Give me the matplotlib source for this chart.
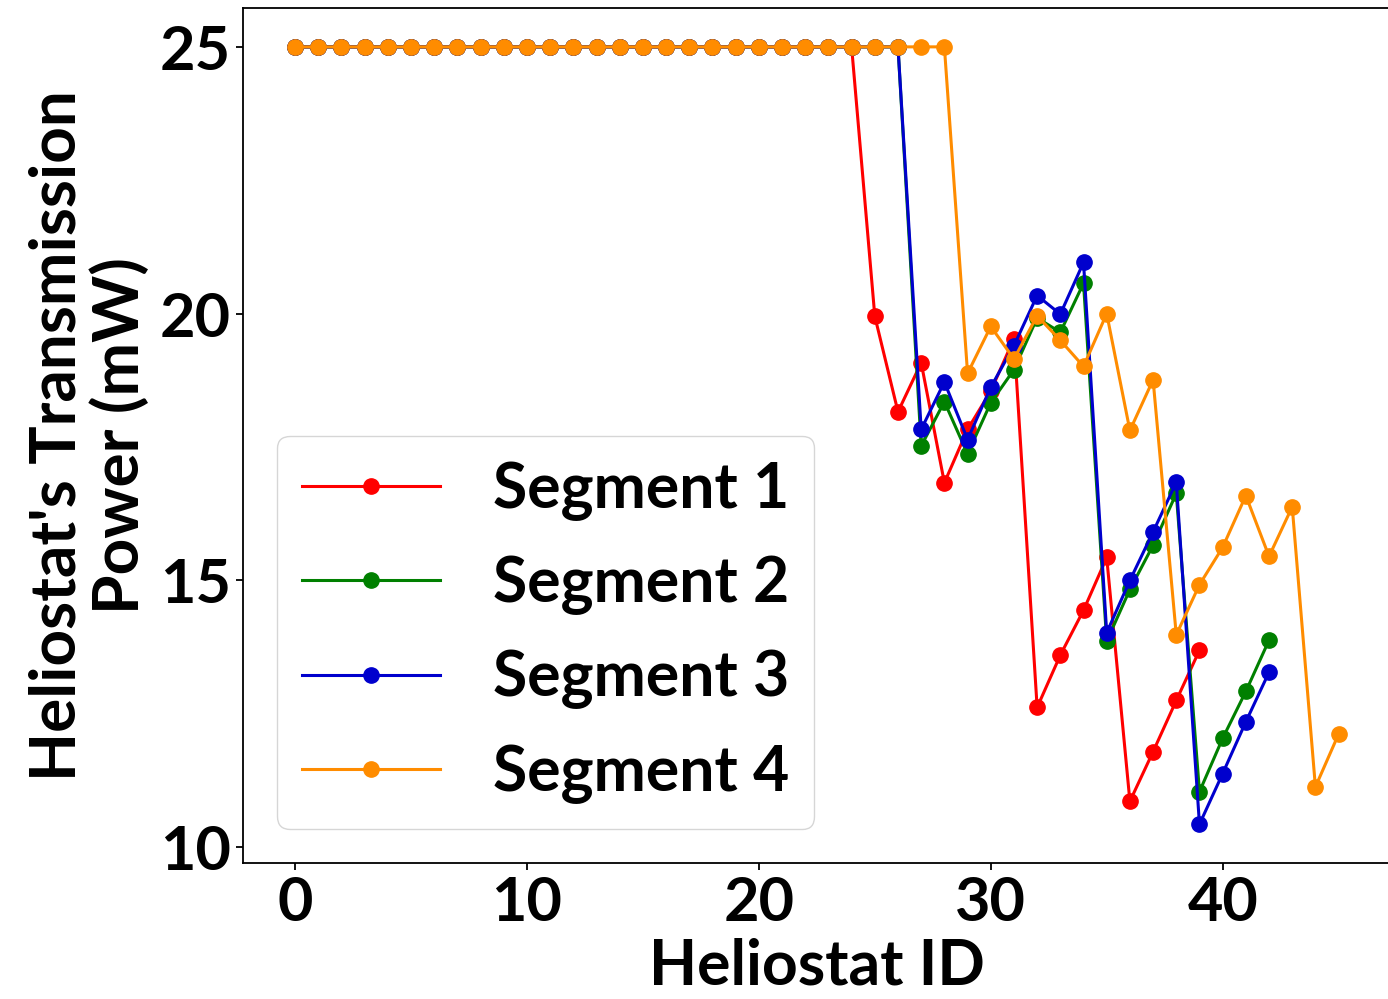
import numpy as np
import matplotlib.pyplot as plt

plt.rcParams['font.family'] = ['Lato', 'DejaVu Sans']
plt.rcParams['font.weight'] = 'bold'

# readings, first value at heliostat 0
seg1 = [25.0] * 25 + [19.95, 18.16, 19.08, 16.83, 17.83, 18.55, 19.53, 12.62,
                      13.6, 14.44, 15.43, 10.86, 11.79, 12.75, 13.69]
seg2 = [25.0] * 27 + [17.52, 18.35, 17.37, 18.33, 18.95, 19.92, 19.65, 20.57,
                      13.86, 14.83, 15.66, 16.63, 11.04, 12.04, 12.92, 13.88]
seg3 = [25.0] * 27 + [17.83, 18.72, 17.64, 18.62, 19.4, 20.34, 19.99, 20.96,
                      14.02, 15.0, 15.91, 16.84, 10.43, 11.38, 12.35, 13.28]
seg4 = [25.0] * 29 + [18.88, 19.76, 19.15, 19.96, 19.5, 19.01, 20.0, 17.81,
                      18.76, 13.98, 14.92, 15.62, 16.59, 15.45, 16.38, 11.13, 12.12]

names = ['Segment 1', 'Segment 2', 'Segment 3', 'Segment 4']
colors = ['red', 'green', 'mediumblue', 'darkorange']

fig = plt.figure(figsize=(13.88, 9.99), dpi=100)
ax = fig.add_axes([0.175, 0.136, 0.827, 0.856])

for s, n, c in zip([seg1, seg2, seg3, seg4], names, colors):
    ax.plot(np.arange(len(s)), s, marker='o', color=c, label=n, lw=2.2, ms=11)

ax.set_xticks([0, 10, 20, 30, 40])
ax.set_yticks([10, 15, 20, 25])
ax.tick_params(labelsize=44, width=1.3, length=5)
for sp in ax.spines.values():
    sp.set_linewidth(1.3)

ax.set_xlabel('Heliostat ID', fontsize=45, fontweight='bold', labelpad=5)
ax.set_ylabel("Heliostat's Transmission\nPower (mW)", fontsize=46,
              fontweight='bold', labelpad=8, linespacing=1.08)

leg = ax.legend(loc='lower left', fontsize=45, handlelength=2.2,
                handletextpad=0.85, labelspacing=0.55, borderaxespad=0.55,
                fancybox=True)
for t in leg.get_texts():
    t.set_fontweight('bold')

fig.savefig('out.png', dpi=100)
